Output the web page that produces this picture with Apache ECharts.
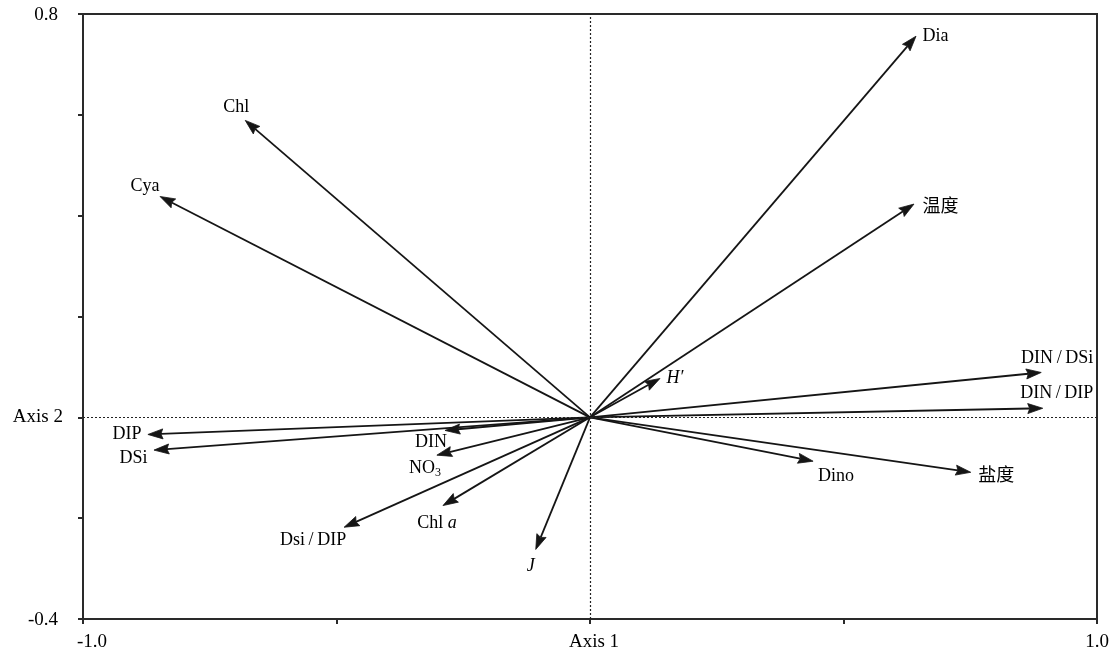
<!DOCTYPE html>
<html>
<head>
<meta charset="utf-8">
<script src="https://cdn.jsdelivr.net/npm/echarts@6/dist/echarts.min.js"></script>
<style>html,body{margin:0;padding:0;background:#fff}#c{width:1112px;height:655px}</style>
</head>
<body>
<div id="c"></div>
<script>
// ---- data ----
const names = ['Dia','温度','Chl','Cya','DIN/DSi','DIN/DIP','H\'','DIP','DSi','DIN','NO3','Chl a','Dsi/DIP','J','Dino','盐度'];
const xs = [0.643, 0.639, -0.680, -0.848, 0.890, 0.893, 0.138, -0.872, -0.860, -0.286, -0.302, -0.290, -0.485, -0.107, 0.440, 0.751];
const ys = [0.756, 0.423, 0.589, 0.438, 0.089, 0.018, 0.077, -0.034, -0.065, -0.026, -0.075, -0.175, -0.218, -0.262, -0.087, -0.109];
const xTickLabels = {'-1': '{l|-1.0}', '0': '{c|Axis 1}', '1': '1.0'};
const yTickLabels = {'0.8': '{n|0.8}', '0': 'Axis 2', '-0.4': '{n|-0.4}'};

// ---- styling (label placement) ----
const FONT = 'Liberation Serif';
const INK = '#151515';
const TXT = '#000';
const labelStyle = {
  'Dia': ['right', [0, 0]],
  '温度': ['right', [2, 1]],
  'Chl': ['top', [-9, 2]],
  'Cya': ['top', [-15, 5]],
  'DIN/DSi': ['top', [16, 1]],
  'DIN/DIP': ['top', [14, 1]],
  'H\'': ['right', [0, 0]],
  'DIP': ['left', [0, 0]],
  'DSi': ['left', [0, 8]],
  'DIN': ['bottom', [-14, -4]],
  'NO3': ['bottom', [-12, -3]],
  'Chl a': ['bottom', [-6, 2]],
  'Dsi/DIP': ['bottom', [-31, -2]],
  'J': ['bottom', [-5, 1]],
  'Dino': ['bottom', [23, 0]],
  '盐度': ['right', [1, 2]]
};
const TS = '\u2009';
const labelText = {
  'H\'': '{i|H\u2032}',
  'J': '{i|J}',
  'Chl a': 'Chl {i|a}',
  'NO3': 'NO{sub|3}',
  '温度': '{cjk|温度}',
  '盐度': '{cjk|盐度}',
  'DIN/DSi': 'DIN' + TS + '/' + TS + 'DSi',
  'DIN/DIP': 'DIN' + TS + '/' + TS + 'DIP',
  'Dsi/DIP': 'Dsi' + TS + '/' + TS + 'DIP'
};

const vecData = names.map((n, i) => ({ name: n, value: [xs[i], ys[i]] }));
const tipData = names.map((n, i) => {
  const st = labelStyle[n];
  return {
    name: n,
    value: [xs[i], ys[i]],
    label: { position: st[0], offset: st[1] }
  };
});

function near(v, t) { return Math.abs(v - t) < 1e-6; }

function renderArrow(params, api) {
  const o = api.coord([0, 0]);
  const t = api.coord([api.value(0), api.value(1)]);
  const dx = t[0] - o[0], dy = t[1] - o[1];
  const L = Math.hypot(dx, dy) || 1;
  const ux = dx / L, uy = dy / L;
  const hl = 15, hw = 5;
  const bx = t[0] - ux * hl, by = t[1] - uy * hl;
  return {
    type: 'group',
    children: [
      { type: 'line', shape: { x1: o[0], y1: o[1], x2: bx + ux * 2, y2: by + uy * 2 },
        style: { stroke: INK, lineWidth: 1.8 } },
      { type: 'polygon', shape: { points: [t, [bx - uy * hw, by + ux * hw], [bx + ux * 2, by + uy * 2], [bx + uy * hw, by - ux * hw]] },
        style: { fill: INK, stroke: INK, lineWidth: 0.8, lineJoin: 'miter' } }
    ]
  };
}

const chart = echarts.init(document.getElementById('c'), null, { renderer: 'canvas' });
chart.setOption({
  animation: false,
  backgroundColor: '#fff',
  grid: { left: 83, right: 15, top: 14, bottom: 36, show: true, borderColor: '#2a2a2a', borderWidth: 2, backgroundColor: 'transparent' },
  xAxis: {
    type: 'value', min: -1, max: 1, interval: 0.5,
    axisLine: { show: true, onZero: false, lineStyle: { color: '#2a2a2a', width: 2 } },
    axisTick: { show: true, length: 5, lineStyle: { color: '#2a2a2a', width: 2 } },
    splitLine: { show: false },
    axisLabel: {
      margin: 14, color: TXT, fontFamily: FONT, fontSize: 19,
      rich: {
        l: { fontFamily: FONT, fontSize: 19, color: TXT, padding: [0, 0, 0, 18] },
        c: { fontFamily: FONT, fontSize: 19, color: TXT, padding: [0, 0, 0, 8] }
      },
      formatter: v => { for (const k in xTickLabels) if (near(v, +k)) return xTickLabels[k]; return ''; }
    }
  },
  yAxis: {
    type: 'value', min: -0.4, max: 0.8, interval: 0.2,
    axisLine: { show: true, onZero: false, lineStyle: { color: '#2a2a2a', width: 2 } },
    axisTick: { show: true, length: 5, lineStyle: { color: '#2a2a2a', width: 2 } },
    splitLine: { show: false },
    axisLabel: {
      margin: 20, color: TXT, fontFamily: FONT, fontSize: 19,
      rich: {
        n: { fontFamily: FONT, fontSize: 19, color: TXT, padding: [3, 5, 0, 0] }
      },
      formatter: v => { for (const k in yTickLabels) if (near(v, +k)) return yTickLabels[k]; return ''; }
    }
  },
  series: [
    {
      type: 'custom',
      coordinateSystem: 'cartesian2d',
      silent: true,
      clip: false,
      renderItem: renderArrow,
      data: vecData,
      markLine: {
        silent: true,
        symbol: ['none', 'none'],
        label: { show: false },
        lineStyle: { color: '#222', type: [2, 2], width: 1.2 },
        data: [{ xAxis: 0 }, { yAxis: 0 }]
      },
      z: 3
    },
    {
      type: 'scatter',
      silent: true,
      symbolSize: 1,
      itemStyle: { color: '#ffffff', opacity: 1 },
      data: tipData,
      label: {
        show: true,
        distance: 6,
        color: TXT,
        opacity: 1,
        fontFamily: FONT,
        fontSize: 18,
        formatter: p => labelText[p.name] || p.name,
        rich: {
          i: { fontStyle: 'italic', fontFamily: FONT, fontSize: 18, color: TXT },
          cjk: { fontFamily: 'Noto Sans CJK SC', fontSize: 18, color: TXT },
          sub: { fontSize: 12, fontFamily: FONT, color: TXT, padding: [8, 0, 0, 0] }
        }
      },
      z: 2
    }
  ]
});
</script>
</body>
</html>
